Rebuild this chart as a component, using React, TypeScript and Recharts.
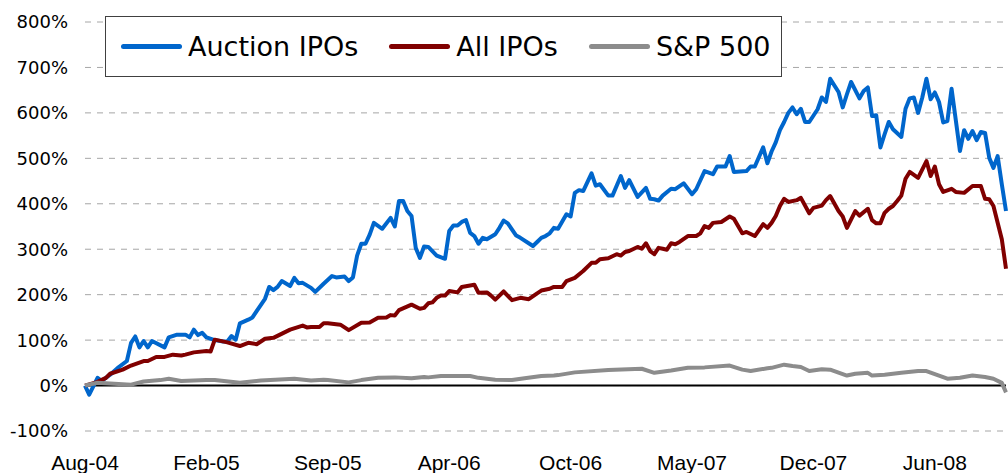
import { CartesianGrid, Line, LineChart, ReferenceLine, XAxis, YAxis } from "recharts";

// weeks since early Aug-04, cumulative return in %
const auctionIpos: [number, number][] = [
  [0, 0], [1, -20], [3, 17], [4, 10], [6, 24], [8, 40], [10, 54], [11, 94], [12, 108], [13, 84],
  [14, 98], [15, 84], [16, 98], [19, 84], [20, 106], [22, 112], [24, 112], [25, 106], [26, 123], [27, 111],
  [28, 116], [29, 106], [31, 100], [33, 97], [34, 97], [35, 109], [36, 101], [37, 137], [39, 145], [40, 150],
  [41, 164], [43, 191], [44, 217], [45, 210], [46, 217], [47, 230], [49, 219], [50, 237], [51, 225], [52, 226],
  [54, 215], [55, 206], [57, 224], [59, 241], [60, 238], [62, 240], [63, 230], [64, 238], [65, 286], [66, 312],
  [67, 312], [68, 332], [69, 358], [71, 345], [73, 369], [74, 350], [75, 406], [76, 406], [77, 384], [78, 373],
  [79, 303], [80, 281], [81, 306], [82, 305], [84, 286], [86, 279], [87, 340], [88, 352], [89, 352], [90, 360],
  [91, 364], [92, 336], [93, 329], [94, 312], [95, 325], [96, 322], [98, 333], [99, 347], [100, 363], [101, 357],
  [103, 330], [104, 325], [107, 307], [108, 316], [109, 325], [110, 329], [111, 335], [112, 347], [113, 345], [115, 377],
  [116, 372], [117, 424], [118, 430], [119, 428], [121, 467], [122, 440], [123, 443], [125, 418], [126, 418], [128, 461],
  [129, 435], [130, 452], [132, 415], [134, 435], [135, 411], [136, 410], [137, 407], [138, 418], [140, 433], [141, 432],
  [143, 445], [145, 421], [146, 432], [148, 472], [150, 465], [151, 482], [153, 482], [154, 505], [155, 470], [158, 472],
  [159, 482], [160, 482], [162, 524], [163, 489], [164, 515], [165, 535], [166, 562], [167, 580], [168, 600], [169, 612],
  [170, 597], [171, 609], [172, 580], [173, 580], [175, 608], [176, 634], [177, 624], [178, 675], [180, 646], [181, 612],
  [182, 641], [183, 668], [185, 632], [186, 648], [187, 656], [188, 593], [189, 595], [190, 524], [191, 553], [192, 580],
  [193, 564], [195, 547], [196, 609], [197, 632], [198, 634], [199, 600], [200, 634], [201, 675], [202, 630], [203, 645],
  [204, 624], [205, 579], [206, 582], [207, 653], [209, 516], [210, 562], [211, 543], [212, 560], [213, 540], [214, 558],
  [215, 556], [216, 501], [217, 479], [218, 505], [219, 443], [220, 384],
];

const allIpos: [number, number][] = [
  [0, 0], [3, 8], [5, 17], [6, 26], [9, 35], [11, 44], [14, 54], [15, 54], [17, 63], [19, 63],
  [21, 68], [23, 66], [24, 68], [26, 73], [29, 76], [30, 75], [31, 101], [34, 95], [37, 87], [39, 94],
  [41, 91], [43, 103], [45, 105], [49, 123], [52, 132], [53, 128], [54, 129], [56, 129], [57, 137], [58, 137],
  [61, 134], [63, 122], [66, 138], [68, 139], [70, 149], [72, 150], [73, 155], [74, 154], [75, 166], [78, 178],
  [80, 169], [81, 171], [82, 181], [83, 183], [84, 193], [85, 198], [86, 198], [87, 208], [89, 205], [90, 217],
  [93, 222], [94, 204], [96, 205], [97, 198], [98, 189], [100, 207], [102, 188], [104, 193], [106, 190], [108, 203],
  [109, 209], [111, 213], [112, 217], [114, 217], [115, 230], [117, 237], [119, 252], [121, 270], [122, 270], [123, 278],
  [125, 280], [127, 289], [128, 286], [129, 294], [130, 296], [132, 305], [133, 301], [134, 313], [135, 296], [136, 289],
  [137, 303], [138, 301], [139, 299], [140, 313], [141, 311], [142, 316], [144, 329], [146, 329], [147, 335], [148, 351],
  [149, 347], [150, 358], [152, 360], [154, 372], [155, 367], [156, 351], [157, 335], [158, 338], [160, 329], [162, 355],
  [163, 347], [164, 358], [165, 373], [166, 395], [167, 411], [168, 404], [170, 408], [171, 413], [173, 379], [174, 391],
  [176, 396], [177, 408], [178, 417], [180, 384], [181, 372], [182, 347], [184, 384], [185, 374], [187, 389], [188, 364],
  [189, 357], [190, 357], [191, 380], [192, 389], [193, 395], [194, 406], [195, 418], [196, 455], [197, 470], [199, 457],
  [201, 494], [202, 461], [203, 482], [204, 443], [205, 426], [207, 433], [208, 426], [210, 424], [212, 439], [214, 439],
  [215, 411], [216, 410], [217, 395], [219, 322], [220, 257],
];

const sp500: [number, number][] = [
  [0, 0], [3, 6], [7, 4], [11, 2], [14, 9], [18, 12], [20, 15], [23, 10], [26, 11], [29, 12],
  [31, 12], [37, 6], [42, 11], [50, 15], [54, 11], [57, 13], [58, 12], [63, 7], [66, 12], [70, 17],
  [74, 18], [78, 16], [81, 19], [82, 18], [85, 21], [86, 21], [92, 21], [94, 17], [98, 13], [102, 12],
  [105, 16], [109, 21], [112, 22], [113, 23], [117, 29], [125, 34], [133, 37], [136, 28], [140, 33], [144, 39],
  [148, 40], [154, 44], [157, 35], [159, 32], [163, 38], [164, 39], [167, 46], [169, 43], [171, 41], [173, 32],
  [176, 36], [178, 35], [182, 22], [184, 26], [187, 28], [188, 22], [191, 24], [195, 28], [199, 32], [201, 32],
  [204, 22], [206, 15], [209, 17], [212, 22], [215, 19], [217, 15], [219, 6], [220, -15],
];

const tickWeeks = [0, 29, 58, 87, 116, 145, 174, 203];
const tickLabels = ["Aug-04", "Feb-05", "Sep-05", "Apr-06", "Oct-06", "May-07", "Dec-07", "Jun-08"];
const yTicks = [-100, 0, 100, 200, 300, 400, 500, 600, 700, 800];

const series = [
  { name: "Auction IPOs", color: "#0066cc", points: auctionIpos },
  { name: "All IPOs", color: "#800000", points: allIpos },
  { name: "S&P 500", color: "#8c8c8c", points: sp500 },
];

const toRows = (pts: [number, number][]) => pts.map(([week, value]) => ({ week, value }));

function ChartLegend() {
  return (
    <div
      style={{
        position: "absolute",
        left: 105,
        top: 16,
        width: 677,
        height: 61,
        boxSizing: "border-box",
        border: "1px solid #404040",
        background: "#fff",
        display: "flex",
        alignItems: "center",
        paddingLeft: 15,
        fontFamily: "'DejaVu Sans', sans-serif",
        fontSize: 27,
        color: "#000",
      }}
    >
      {series.map((s, i) => (
        <div key={s.name} style={{ display: "flex", alignItems: "center", marginLeft: i === 0 ? 0 : 31 }}>
          <span style={{ display: "inline-block", width: 61, height: 5, borderRadius: 3, background: s.color, marginRight: 6 }} />
          <span>{s.name}</span>
        </div>
      ))}
    </div>
  );
}

export default function App() {
  return (
    <div style={{ position: "absolute", left: 0, top: 0, width: 1008, height: 473, background: "#fff" }}>
      <LineChart width={1008} height={473} margin={{ top: 22, right: 2, bottom: 0, left: 0 }}>
        <CartesianGrid vertical={false} stroke="#a6a6a6" strokeDasharray="6 6" />
        <XAxis
          dataKey="week"
          type="number"
          domain={[0, 220]}
          ticks={tickWeeks}
          tickFormatter={(v) => tickLabels[tickWeeks.indexOf(v)] ?? ""}
          axisLine={false}
          tickLine={false}
          height={42}
          tickMargin={18}
          tick={{ fill: "#000", fontSize: 21, fontFamily: "'Liberation Sans', Arial, sans-serif" }}
          allowDuplicatedCategory={false}
        />
        <YAxis
          type="number"
          domain={[-100, 800]}
          ticks={yTicks}
          tickFormatter={(v) => `${v}%`}
          axisLine={false}
          tickLine={false}
          width={85}
          tickMargin={11}
          tick={{ fill: "#000", fontSize: 18, fontFamily: "'DejaVu Sans', sans-serif" }}
        />
        <ReferenceLine y={0} stroke="#000" strokeWidth={2} />
        {series.map((s) => (
          <Line
            key={s.name}
            data={toRows(s.points)}
            dataKey="value"
            name={s.name}
            type="linear"
            stroke={s.color}
            strokeWidth={4}
            strokeLinejoin="round"
            dot={false}
            activeDot={false}
            isAnimationActive={false}
          />
        ))}
      </LineChart>
      <ChartLegend />
    </div>
  );
}
